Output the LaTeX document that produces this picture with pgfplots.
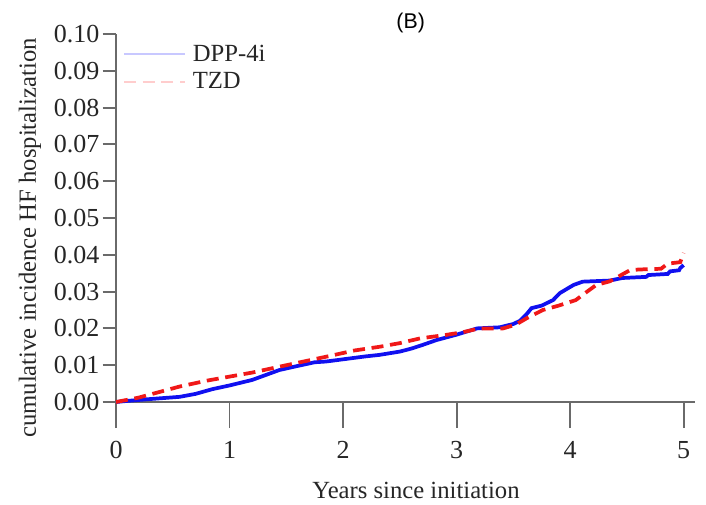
\documentclass[border=0pt]{standalone}
\usepackage{pgfplots}
\pgfplotsset{compat=1.18}
\usepackage{fontspec}
\setmainfont{Liberation Serif}
\newfontfamily\titlefont{Liberation Sans}

\definecolor{axgray}{HTML}{6A6A6A}
\definecolor{dppblue}{HTML}{1010F0}
\definecolor{tzdred}{HTML}{F01818}

% Cumulative incidence, DPP-4i
\pgfplotstableread{
t v
0.00 0.0000
0.10 0.0003
0.30 0.0008
0.56 0.0014
0.70 0.0022
0.85 0.0035
1.00 0.0045
1.20 0.0060
1.44 0.0087
1.60 0.0098
1.75 0.0108
1.85 0.0110
2.00 0.0116
2.20 0.0124
2.32 0.0128
2.50 0.0137
2.60 0.0145
2.70 0.0155
2.82 0.0168
3.00 0.0183
3.18 0.0200
3.38 0.0203
3.50 0.0212
3.56 0.0221
3.62 0.0240
3.66 0.0255
3.75 0.0262
3.85 0.0277
3.91 0.0296
4.03 0.0318
4.11 0.0327
4.35 0.0330
4.46 0.0337
4.67 0.0340
4.69 0.0345
4.86 0.0348
4.88 0.0355
4.96 0.0358
4.97 0.0364
5.00 0.0372
}\dpp

% Cumulative incidence, TZD
\pgfplotstableread{
t v
0.00 0.0000
0.20 0.0012
0.56 0.0042
0.80 0.0058
1.00 0.0069
1.20 0.0080
1.50 0.0100
1.88 0.0125
2.10 0.0140
2.32 0.0150
2.50 0.0160
2.68 0.0173
2.90 0.0182
3.06 0.0190
3.20 0.0200
3.41 0.0200
3.52 0.0210
3.62 0.0228
3.76 0.0250
3.90 0.0262
4.05 0.0277
4.15 0.0300
4.23 0.0318
4.35 0.0328
4.45 0.0345
4.52 0.0357
4.60 0.0360
4.80 0.0362
4.86 0.0376
4.97 0.0380
5.00 0.0405
}\tzd

\pgfplotsset{
  frame/.style={
    at={(87pt,76.5pt)}, anchor=south west,
    scale only axis,
    width=434.25pt, height=276pt,
    xmin=0, xmax=5.1, ymin=0, ymax=0.10,
    axis x line*=bottom, axis y line*=left,
    axis line style={axgray, line width=1.4pt, -},
    tick style={axgray, line width=1.4pt},
    tick align=outside,
    minor tick num=0,
    /pgf/number format/assume math mode=true,
    ticklabel style={font=\fontsize{19.5}{21}\selectfont, text=black!85},
    scaled y ticks=false,
    clip=false,
  },
}

\begin{document}
\begin{tikzpicture}
\useasboundingbox (0,0) rectangle (529.5pt,378pt);
% y axis with short ticks
\begin{axis}[frame,
  xtick=\empty,
  ytick={0,0.01,...,0.1},
  major tick length=10pt,
  y tick label style={/pgf/number format/fixed, /pgf/number format/fixed zerofill,
    /pgf/number format/precision=2, xshift=1pt},
]
\end{axis}
% x axis with long ticks, the curves and the legend
\begin{axis}[frame,
  ytick=\empty,
  xtick={0,1,2,3,4,5},
  major tick length=19.5pt,
  x tick label style={yshift=-6.5pt},
  legend style={at={(axis description cs:0.012,0.978)}, anchor=north west,
    draw=none, fill=none, inner sep=0pt, row sep=3pt,
    font=\fontsize{18.5}{20}\selectfont, text=black!85,
    nodes={inner xsep=5pt}},
  legend cell align=left,
  legend image code/.code={\draw[#1] (0pt,0pt) -- (46pt,0pt);},
]
\addplot[dppblue, line width=2.8pt, forget plot] table[x=t, y=v] {\dpp};
\addplot[tzdred, line width=2.8pt, dash pattern=on 9pt off 5pt, forget plot] table[x=t, y=v] {\tzd};
\addlegendimage{color={rgb,255:red,200;green,200;blue,255}, line width=1.2pt}
\addlegendentry{DPP-4i}
\addlegendimage{color={rgb,255:red,255;green,205;blue,205}, line width=1.2pt, dash pattern=on 9pt off 5pt}
\addlegendentry{TZD}
\end{axis}
\node[font=\titlefont\fontsize{16}{18}\selectfont] at (308pt,361pt) {(B)};
\node[rotate=90, font=\fontsize{18.5}{20}\selectfont, text=black!85] at (22.5pt,199.5pt) {cumulative incidence HF hospitalization};
\node[font=\fontsize{18.5}{20}\selectfont, text=black!85] at (312pt,10.5pt) {Years since initiation};
\end{tikzpicture}
\end{document}
